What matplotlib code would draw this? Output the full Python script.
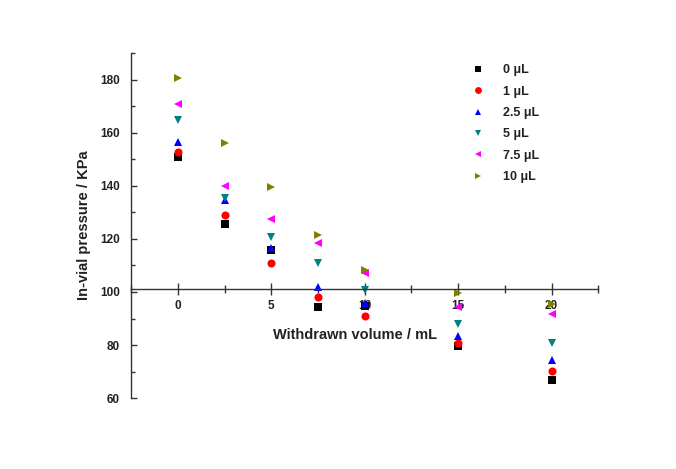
import matplotlib
matplotlib.use("Agg")
import matplotlib.pyplot as plt
from matplotlib.ticker import MultipleLocator

plt.rcParams['font.family'] = ['Liberation Sans', 'DejaVu Sans']

volume = [0, 2.5, 5, 7.5, 10, 15, 20]
labels = ['0 \u03bcL', '1 \u03bcL', '2.5 \u03bcL', '5 \u03bcL', '7.5 \u03bcL', '10 \u03bcL']
p_0 = [150.7, 125.5, 115.8, 94.3, 94.8, 79.5, 67.0]
p_1 = [152.6, 128.9, 110.8, 98.0, 91.0, 80.8, 70.2]
p_2_5 = [156.3, 134.5, 116.5, 102.0, 95.8, 83.4, 74.4]
p_5 = [164.6, 135.5, 120.6, 110.8, 100.9, 88.0, 80.8]
p_7_5 = [170.8, 139.8, 127.4, 118.3, 107.2, 94.3, 91.6]
p_10 = [180.7, 156.2, 139.4, 121.3, 108.2, 99.5, 95.6]

series = [p_0, p_1, p_2_5, p_5, p_7_5, p_10]
markers = ['s', 'o', '^', 'v', '<', '>']
colors = ['#000000', '#FF0000', '#0000FF', '#008080', '#FF00FF', '#808000']

fig = plt.figure(figsize=(6.76, 4.69), dpi=100)
ax = fig.add_axes([0.194, 0.151, 0.691, 0.736])

for vals, m, c, lab in zip(series, markers, colors, labels):
    ax.plot(volume, vals, linestyle='none', marker=m, color=c, markersize=5.8,
            markeredgewidth=0, label=lab)

ax.set_xlim(-2.5, 22.5)
ax.set_ylim(60, 190)
ax.spines['top'].set_visible(False)
ax.spines['right'].set_visible(False)
ax.spines['bottom'].set_position(('data', 101.3))
for s in ['left', 'bottom']:
    ax.spines[s].set_linewidth(1.0)
    ax.spines[s].set_color('#333333')

ax.xaxis.set_major_locator(MultipleLocator(5))
ax.xaxis.set_minor_locator(MultipleLocator(2.5))
ax.yaxis.set_minor_locator(MultipleLocator(10))
ax.set_yticks([60, 80, 100, 120, 140, 160, 180])
ax.tick_params(axis='x', which='major', direction='inout', length=8, width=1, pad=4, labelsize=8.5, colors='#333333')
ax.tick_params(axis='x', which='minor', direction='inout', length=6, width=1, colors='#333333')
ax.tick_params(axis='y', which='major', direction='in', length=4, width=1, pad=8, labelsize=8.5, colors='#333333')
ax.tick_params(axis='y', which='minor', direction='in', length=3, width=1, colors='#333333')
for t in ax.get_xticklabels() + ax.get_yticklabels():
    t.set_fontweight('bold')
    t.set_color('#222222')

fig.text(0.525, 0.285, 'Withdrawn volume / mL', ha='center', va='center',
         fontsize=10.5, fontweight='bold', color='#222222')
fig.text(0.124, 0.52, 'In-vial pressure / KPa', ha='center', va='center',
         rotation=90, fontsize=10.5, fontweight='bold', color='#222222')

leg = ax.legend(loc='upper left', bbox_to_anchor=(0.703, 1.0), frameon=False,
                handletextpad=1.4, labelspacing=0.75, handlelength=1.2, markerscale=0.85,
                prop={'weight': 'bold', 'size': 9})
for t in leg.get_texts():
    t.set_color('#222222')

fig.savefig('out.png', dpi=100)
